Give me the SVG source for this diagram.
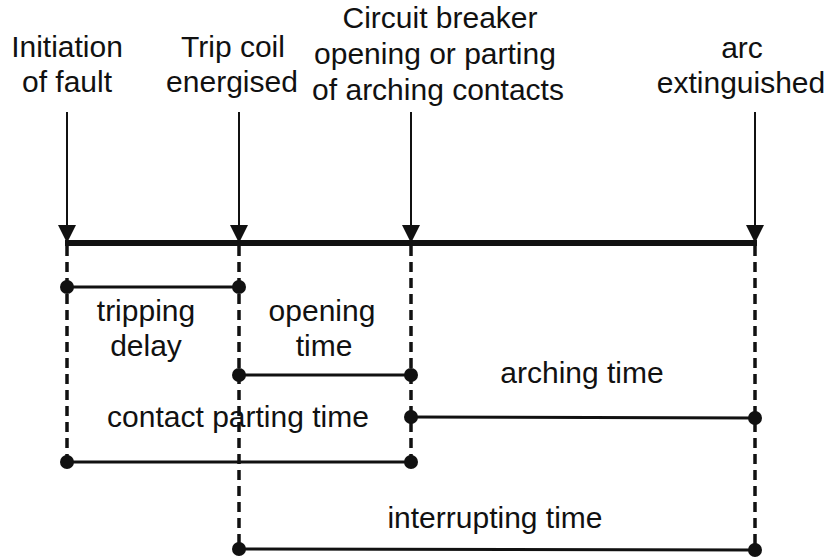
<svg xmlns="http://www.w3.org/2000/svg" width="826" height="560" viewBox="0 0 826 560">
<defs>
<style>
text{font-family:"Liberation Sans",Arial,sans-serif;font-size:30px;fill:#111;text-anchor:middle}
.arrow{stroke:#111;stroke-width:2;fill:none}
.head{fill:#111}
.dash{stroke:#111;stroke-width:3.5;stroke-dasharray:10 6;fill:none}
.seg{stroke:#111;stroke-width:3;fill:none}
.dot{fill:#111}
</style>
</defs>
<rect width="826" height="560" fill="#fff"/>
<g id="connectors">
<line class="arrow" x1="67" y1="112" x2="67" y2="230"/>
<line class="arrow" x1="239" y1="112" x2="239" y2="230"/>
<line class="arrow" x1="411" y1="112" x2="411" y2="230"/>
<line class="arrow" x1="755" y1="112" x2="755" y2="230"/>
<path class="head" d="M58,225 L76,225 L67,243 Z"/>
<path class="head" d="M230,225 L248,225 L239,243 Z"/>
<path class="head" d="M402,225 L420,225 L411,243 Z"/>
<path class="head" d="M746,225 L764,225 L755,243 Z"/>
<line x1="65" y1="243" x2="757" y2="243" stroke="#111" stroke-width="6"/>
<line class="dash" x1="67" y1="246" x2="67" y2="462"/>
<line class="dash" x1="239" y1="246" x2="239" y2="549"/>
<line class="dash" x1="411" y1="246" x2="411" y2="462"/>
<line class="dash" x1="755" y1="246" x2="755" y2="549"/>
<line class="seg" x1="67" y1="287" x2="239" y2="287"/>
<line class="seg" x1="239" y1="375" x2="411" y2="375"/>
<line class="seg" x1="411" y1="417" x2="755" y2="418"/>
<line class="seg" x1="67" y1="462" x2="411" y2="462"/>
<line class="seg" x1="239" y1="549" x2="755" y2="550"/>
<circle class="dot" cx="67" cy="287" r="7"/>
<circle class="dot" cx="239" cy="287" r="7"/>
<circle class="dot" cx="239" cy="375" r="7"/>
<circle class="dot" cx="411" cy="375" r="7"/>
<circle class="dot" cx="411" cy="417" r="7"/>
<circle class="dot" cx="755" cy="418" r="7"/>
<circle class="dot" cx="67" cy="462" r="7"/>
<circle class="dot" cx="411" cy="462" r="7"/>
<circle class="dot" cx="239" cy="549" r="7"/>
<circle class="dot" cx="755" cy="550" r="7"/>
</g>
<g id="event-fault">
<text x="67" y="57">Initiation</text>
<text x="67" y="92">of fault</text>
</g>
<g id="event-trip">
<text x="233" y="57">Trip coil</text>
<text x="232" y="92">energised</text>
</g>
<g id="event-open">
<text x="440" y="28">Circuit breaker</text>
<text x="435" y="64">opening or parting</text>
<text x="438" y="100">of arching contacts</text>
</g>
<g id="event-arc">
<text x="742" y="58">arc</text>
<text x="741" y="93">extinguished</text>
</g>
<g id="label-tripping">
<text x="146" y="321">tripping</text>
<text x="146" y="356">delay</text>
</g>
<g id="label-opening">
<text x="322" y="321">opening</text>
<text x="324" y="356">time</text>
</g>
<g id="label-arching">
<text x="582" y="383">arching time</text>
</g>
<g id="label-contact">
<text x="238" y="427">contact parting time</text>
</g>
<g id="label-interrupting">
<text x="495" y="528">interrupting time</text>
</g>
</svg>
